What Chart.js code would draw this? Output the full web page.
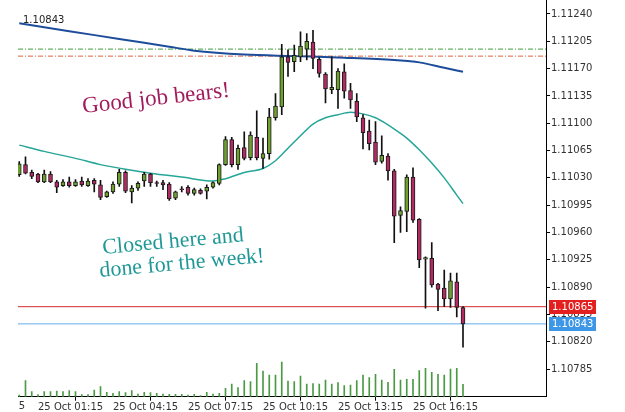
<!DOCTYPE html>
<html>
<head>
<meta charset="utf-8">
<script src="https://cdn.jsdelivr.net/npm/chart.js@4.4.1/dist/chart.umd.min.js"></script>
<style>
  html, body { margin: 0; padding: 0; background: #fff; }
  canvas { display: block; }
</style>
</head>
<body>
<canvas id="chart_eurusd" width="625" height="412"></canvas>
<script>
// 15 min candles, 25 Oct
var times = ['00:30','00:45','01:00','01:15','01:30','01:45','02:00','02:15','02:30','02:45',
             '03:00','03:15','03:30','03:45','04:00','04:15','04:30','04:45','05:00','05:15',
             '05:30','05:45','06:00','06:15','06:30','06:45','07:00','07:15','07:30','07:45',
             '08:00','08:15','08:30','08:45','09:00','09:15','09:30','09:45','10:00','10:15',
             '10:30','10:45','11:00','11:15','11:30','11:45','12:00','12:15','12:30','12:45',
             '13:00','13:15','13:30','13:45','14:00','14:15','14:30','14:45','15:00','15:15',
             '15:30','15:45','16:00','16:15','16:30','16:45','17:00','17:15','17:30','17:45',
             '18:00','18:15'];
var opens = [1.11034,1.11047,1.11037,1.11035,1.11025,1.11035,1.11025,1.11020,1.11025,1.11020,
             1.11026,1.11020,1.11027,1.11021,1.11006,1.11012,1.11022,1.11037,1.11012,1.11017,
             1.11026,1.11035,1.11024,1.11024,1.11022,1.11004,1.11016,1.11018,1.11010,1.11014,
             1.11013,1.11018,1.11023,1.11047,1.11079,1.11047,1.11069,1.11056,1.11082,1.11055,
             1.11061,1.11107,1.11121,1.11185,1.11179,1.11185,1.11195,1.11204,1.11182,1.11163,
             1.11143,1.11143,1.11166,1.11142,1.11128,1.11107,1.11090,1.11076,1.11051,1.11058,
             1.11039,1.10982,1.10987,1.11031,1.10977,1.10926,1.10927,1.10894,1.10889,1.10875,
             1.10897,1.10864];
var highs = [1.11051,1.11057,1.11040,1.11036,1.11040,1.11038,1.11027,1.11028,1.11031,1.11028,
             1.11031,1.11029,1.11029,1.11027,1.11013,1.11025,1.11041,1.11039,1.11020,1.11025,
             1.11037,1.11036,1.11026,1.11027,1.11024,1.11013,1.11019,1.11020,1.11017,1.11016,
             1.11021,1.11025,1.11048,1.11083,1.11082,1.11072,1.11089,1.11089,1.11116,1.11081,
             1.11119,1.11138,1.11201,1.11194,1.11200,1.11217,1.11215,1.11219,1.11184,1.11165,
             1.11185,1.11170,1.11176,1.11151,1.11138,1.11111,1.11104,1.11102,1.11084,1.11061,
             1.11041,1.10993,1.11034,1.11043,1.10978,1.10929,1.10947,1.10895,1.10912,1.10908,
             1.10908,1.10865];
var lows =  [1.11032,1.11035,1.11029,1.11024,1.11024,1.11024,1.11011,1.11019,1.11018,1.11019,
             1.11019,1.11019,1.11012,1.11002,1.11005,1.11010,1.11019,1.11011,1.10998,1.11014,
             1.11019,1.11019,1.11019,1.11015,1.11001,1.11002,1.11012,1.11008,1.11008,1.11009,
             1.11003,1.11017,1.11021,1.11046,1.11044,1.11041,1.11053,1.11053,1.11053,1.11042,
             1.11054,1.11104,1.11111,1.11160,1.11166,1.11179,1.11181,1.11170,1.11159,1.11126,
             1.11138,1.11119,1.11132,1.11119,1.11102,1.11067,1.11066,1.11047,1.11049,1.11027,
             1.10947,1.10960,1.10961,1.10973,1.10915,1.10863,1.10890,1.10860,1.10865,1.10864,
             1.10852,1.10813];
var closes = [1.11048,1.11036,1.11032,1.11025,1.11035,1.11025,1.11018,1.11025,1.11020,1.11025,
              1.11021,1.11026,1.11022,1.11005,1.11012,1.11022,1.11037,1.11013,1.11017,1.11023,
              1.11035,1.11024,1.11023,1.11021,1.11003,1.11012,1.11015,1.11010,1.11015,1.11010,
              1.11018,1.11024,1.11047,1.11079,1.11047,1.11068,1.11055,1.11085,1.11056,1.11061,
              1.11108,1.11122,1.11185,1.11178,1.11187,1.11199,1.11205,1.11183,1.11164,1.11144,
              1.11146,1.11167,1.11141,1.11130,1.11108,1.11088,1.11074,1.11050,1.11059,1.11039,
              1.10981,1.10988,1.11031,1.10976,1.10925,1.10928,1.10893,1.10887,1.10875,1.10898,
              1.10864,1.10843];
var volumes = [17,160,50,20,50,50,57,50,60,50,
               20,20,67,100,44,34,50,40,60,27,
               44,40,34,27,24,24,24,17,24,10,
               44,27,34,84,127,90,160,150,334,257,
               217,217,347,157,150,207,125,130,127,167,
               127,140,110,117,160,217,190,224,167,144,
               274,167,174,174,260,284,244,224,217,277,
               284,124];

// moving averages, read at a few points
var slowMaTimes = ['00:30','02:30','04:30','06:30','07:30','09:30','11:30','13:30','15:30','16:30','17:30','18:15'];
var slowMa = [1.11228,1.11218,1.11208,1.11198,1.11193,1.11188,1.11186,1.11184,1.11181,1.11178,1.11171,1.11166];
var fastMaTimes = ['00:30','01:30','02:45','03:45','04:45','05:45','07:00','08:15','08:45','09:30',
                   '10:15','10:45','11:15','11:45','12:15','12:45','13:15','13:45','14:15','14:45',
                   '15:15','15:45','16:00','16:30','17:00','17:30','18:00','18:15'];
var fastMa = [1.11072,1.11064,1.11055,1.11047,1.11041,1.11036,1.11031,1.11026,1.11029,1.11037,
              1.11042,1.11052,1.11068,1.11084,1.11099,1.11107,1.11111,1.11114,1.11112,1.11107,
              1.11098,1.11087,1.11081,1.11066,1.11049,1.11030,1.11008,1.10997];

var xTickTimes = ['01:15','04:15','07:15','10:15','13:15','16:15'];
var xTickLabels = ['25 Oct 01:15','25 Oct 04:15','25 Oct 07:15','25 Oct 10:15','25 Oct 13:15','25 Oct 16:15'];
var prevDayLabel = '24 Oct 22:15';
var yTicks = [1.11240,1.11205,1.11170,1.11135,1.11100,1.11065,1.11030,1.10995,1.10960,1.10925,1.10890,1.10855,1.10820,1.10785];

var upperLevel = 1.11195;
var lowerLevel = 1.11186;
var askPrice = 1.10865;
var bidPrice = 1.10843;

var xMin = 1.8, xMax = 86.28;
var yMin = 1.107497, yMax = 1.112579;

function toSlot(t) {
    var p = t.split(':');
    return (parseInt(p[0], 10) * 60 + parseInt(p[1], 10)) / 15;
}

var candleColors = opens.map(function(o, i) { return closes[i] >= o ? '#6e9f2f' : '#b22a63'; });

function levelLine(price, color, dash, width) {
    return {
        type: 'line',
        data: [{x: xMin, y: price}, {x: xMax, y: price}],
        borderColor: color,
        borderWidth: width,
        borderDash: dash,
        pointRadius: 0,
        yAxisID: 'y',
        order: 6
    };
}

var notes = {
    id: 'notes',
    afterDraw: function(chart) {
        var c = chart.ctx;
        var ys = chart.scales.y, xs = chart.scales.x;
        c.save();

        // price tags on the right axis
        [[askPrice, '#e3201f'], [bidPrice, '#3d97e6']].forEach(function(tag) {
            var py = ys.getPixelForValue(tag[0]);
            c.fillStyle = tag[1];
            c.fillRect(549, Math.round(py) - 7, 47, 14);
            c.fillStyle = '#fff';
            c.font = '10px "DejaVu Sans"';
            c.textBaseline = 'middle';
            c.textAlign = 'left';
            c.fillText(tag[0].toFixed(5), 552, py + 0.5);
        });

        // bid label top left
        c.fillStyle = '#222';
        c.font = '10px "DejaVu Sans"';
        c.textBaseline = 'middle';
        c.fillText(bidPrice.toFixed(5), 23, 20);

        // cut label of previous day
        c.save();
        c.beginPath();
        c.rect(chart.chartArea.left + 1, chart.chartArea.bottom + 1, 60, 15);
        c.clip();
        c.fillStyle = '#333';
        c.textBaseline = 'top';
        c.fillText(prevDayLabel, xs.getPixelForValue(toSlot('22:15') - 96) - 3, chart.chartArea.bottom + 5);
        c.restore();

        function note(text, x, y, deg, color, size) {
            c.save();
            c.translate(x, y);
            c.rotate(deg * Math.PI / 180);
            c.fillStyle = color;
            c.font = size + 'px "Liberation Serif"';
            c.textAlign = 'left';
            c.textBaseline = 'alphabetic';
            c.fillText(text, 0, 0);
            c.restore();
        }
        note('Good job bears!', 83, 113, -6.3, '#a21c5c', 23);
        note('Closed here and', 103, 254, -5.2, '#1f9896', 22);
        note('done for the week!', 100, 277, -5.2, '#1f9896', 22);

        c.restore();
    }
};

var ctx = document.getElementById('chart_eurusd');
var chartCandles = new Chart(ctx, {
    type: 'bar',
    data: {
        datasets: [
            {
                label: 'body',
                data: times.map(function(t, i) { return {x: toSlot(t), y: [opens[i], closes[i]]}; }),
                backgroundColor: candleColors,
                borderColor: '#1a1a1a',
                borderWidth: 1,
                borderSkipped: false,
                barThickness: 4,
                grouped: false,
                yAxisID: 'y',
                order: 1
            },
            {
                label: 'wick',
                data: times.map(function(t, i) { return {x: toSlot(t), y: [lows[i], highs[i]]}; }),
                backgroundColor: '#111',
                barThickness: 1,
                grouped: false,
                yAxisID: 'y',
                order: 2
            },
            {
                type: 'line',
                label: 'slow ma',
                data: slowMaTimes.map(function(t, i) { return {x: toSlot(t), y: slowMa[i]}; }),
                borderColor: '#1d4d9a',
                borderWidth: 2,
                pointRadius: 0,
                cubicInterpolationMode: 'monotone',
                yAxisID: 'y',
                order: 3
            },
            {
                type: 'line',
                label: 'fast ma',
                data: fastMaTimes.map(function(t, i) { return {x: toSlot(t), y: fastMa[i]}; }),
                borderColor: '#26a698',
                borderWidth: 1.5,
                pointRadius: 0,
                cubicInterpolationMode: 'monotone',
                yAxisID: 'y',
                order: 4
            },
            levelLine(upperLevel, '#3f9c3f', [5, 2, 1, 2], 1),
            levelLine(lowerLevel, '#e2643a', [5, 2, 1, 2], 1),
            levelLine(askPrice, '#d42a2a', [], 1),
            levelLine(bidPrice, '#62ade9', [], 1),
            {
                label: 'volume',
                data: times.map(function(t, i) { return {x: toSlot(t), y: volumes[i]}; }),
                backgroundColor: '#4a9a44',
                barThickness: 1,
                grouped: false,
                yAxisID: 'v',
                order: 9
            }
        ]
    },
    options: {
        responsive: false,
        animation: false,
        layout: { padding: { left: 18, right: 0, top: 0, bottom: 0 } },
        plugins: {
            legend: { display: false },
            tooltip: { enabled: false }
        },
        scales: {
            x: {
                type: 'linear',
                min: xMin,
                max: xMax,
                bounds: 'data',
                offset: false,
                grid: { display: true, drawOnChartArea: false, drawTicks: true, tickLength: 4, color: '#000' },
                border: { display: true, color: '#000', width: 1 },
                ticks: {
                    align: 'start',
                    maxRotation: 0,
                    autoSkip: false,
                    padding: 1,
                    color: '#333',
                    font: { family: 'DejaVu Sans', size: 10 },
                    callback: function(value, index) { return xTickLabels[index]; }
                },
                afterBuildTicks: function(scale) {
                    scale.ticks = xTickTimes.map(function(t) { return {value: toSlot(t)}; });
                },
                afterFit: function(scale) {
                    scale.height = 15.3;
                    scale.paddingLeft = 0;
                    scale.paddingRight = 0;
                }
            },
            y: {
                type: 'linear',
                position: 'right',
                min: yMin,
                max: yMax,
                bounds: 'data',
                grid: { display: true, drawOnChartArea: false, drawTicks: true, tickLength: 4, color: '#000' },
                border: { display: true, color: '#000', width: 1 },
                ticks: {
                    padding: 1,
                    color: '#333',
                    font: { family: 'DejaVu Sans', size: 10 },
                    callback: function(value) { return value.toFixed(5); }
                },
                afterBuildTicks: function(scale) {
                    scale.ticks = yTicks.map(function(v) { return {value: v}; });
                },
                afterFit: function(scale) {
                    scale.width = 79;
                    scale.paddingTop = 0;
                    scale.paddingBottom = 0;
                }
            },
            v: {
                type: 'linear',
                display: false,
                min: 0,
                max: 3967
            }
        }
    },
    plugins: [notes]
});
</script>
</body>
</html>
